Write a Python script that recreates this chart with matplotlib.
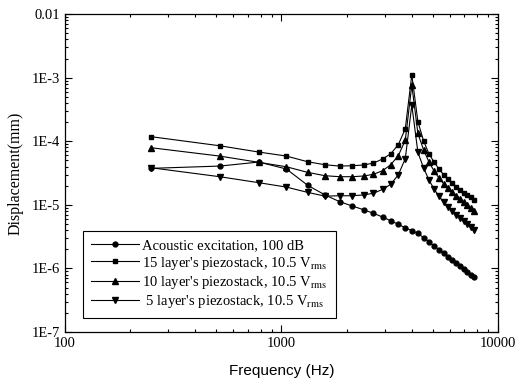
import numpy as np
import matplotlib
matplotlib.use("Agg")
from matplotlib import pyplot as plt, ticker

plt.rcParams['mathtext.fontset'] = 'stix'

freq = [250, 518, 786, 1054, 1321, 1589, 1857, 2125, 2393, 2661, 2929, 3196, 3464, 3732,
        4000, 4268, 4536, 4804, 5071, 5339, 5607, 5875, 6143, 6411, 6679, 6946, 7214, 7482, 7750]

# acoustic excitation, 100 dB
acoustic = [3.75e-5, 4.07e-5, 4.71e-5, 3.66e-5, 2.03e-5, 1.43e-5, 1.12e-5, 9.58e-6, 8.38e-6,
            7.35e-6, 6.43e-6, 5.62e-6, 4.93e-6, 4.36e-6, 3.92e-6, 3.56e-6, 3.04e-6, 2.62e-6,
            2.26e-6, 1.98e-6, 1.74e-6, 1.53e-6, 1.36e-6, 1.21e-6, 1.08e-6, 9.75e-7, 8.81e-7,
            7.93e-7, 7.41e-7]
# 15 layer stack
layer15 = [1.18e-4, 8.5e-5, 6.76e-5, 5.85e-5, 4.76e-5, 4.27e-5, 4.07e-5, 4.12e-5, 4.23e-5,
           4.54e-5, 5.25e-5, 6.36e-5, 8.81e-5, 1.57e-4, 1.11e-3, 2.03e-4, 1.01e-4, 6.29e-5,
           4.71e-5, 3.66e-5, 2.99e-5, 2.55e-5, 2.20e-5, 1.94e-5, 1.74e-5, 1.56e-5, 1.43e-5,
           1.31e-5, 1.21e-5]
# 10 layer stack
layer10 = [7.91e-5, 5.85e-5, 4.66e-5, 3.97e-5, 3.24e-5, 2.87e-5, 2.77e-5, 2.77e-5, 2.84e-5,
           3.02e-5, 3.44e-5, 4.27e-5, 5.92e-5, 1.04e-4, 7.65e-4, 1.33e-4, 7.27e-5, 4.71e-5,
           3.40e-5, 2.64e-5, 2.16e-5, 1.84e-5, 1.59e-5, 1.40e-5, 1.23e-5, 1.11e-5, 9.93e-6,
           8.91e-6, 8.07e-6]
# 5 layer stack
layer5 = [3.83e-5, 2.77e-5, 2.23e-5, 1.90e-5, 1.57e-5, 1.37e-5, 1.39e-5, 1.39e-5, 1.43e-5,
          1.52e-5, 1.75e-5, 2.10e-5, 2.97e-5, 5.31e-5, 3.71e-4, 6.69e-5, 3.79e-5, 2.45e-5,
          1.77e-5, 1.37e-5, 1.11e-5, 9.23e-6, 7.99e-6, 7.04e-6, 6.19e-6, 5.56e-6, 4.99e-6,
          4.48e-6, 4.09e-6]

labels = ["Acoustic excitation, 100 dB",
          "15 layer's piezostack, 10.5 V$_{\\mathrm{rms}}$",
          "10 layer's piezostack, 10.5 V$_{\\mathrm{rms}}$",
          " 5 layer's piezostack, 10.5 V$_{\\mathrm{rms}}$"]

fig = plt.figure(figsize=(5.16, 3.82), dpi=100)
ax = fig.add_axes([0.126, 0.131, 0.839, 0.832])

ax.plot(freq, acoustic, 'k-o', lw=0.8, ms=3.5, label=labels[0])
ax.plot(freq, layer15, 'k-s', lw=0.8, ms=3.5, label=labels[1])
ax.plot(freq, layer10, 'k-^', lw=0.8, ms=4, label=labels[2])
ax.plot(freq, layer5, 'k-v', lw=0.8, ms=4, label=labels[3])

ax.set_xscale("log")
ax.set_yscale("log")
ax.set_xlim(100, 10000)
ax.set_ylim(1e-7, 1e-2)

ax.set_yticks([1e-7, 1e-6, 1e-5, 1e-4, 1e-3, 1e-2])
ax.set_yticklabels(["1E-7", "1E-6", "1E-5", "1E-4", "1E-3", "0.01"])
ax.set_xticks([100, 1000, 10000])
ax.set_xticklabels(["100", "1000", "10000"])
ax.xaxis.set_minor_locator(ticker.LogLocator(base=10, subs=np.arange(2, 10)))
ax.yaxis.set_minor_locator(ticker.LogLocator(base=10, subs=np.arange(2, 10)))
ax.xaxis.set_minor_formatter(ticker.NullFormatter())
ax.yaxis.set_minor_formatter(ticker.NullFormatter())

ax.tick_params(which='both', direction='in', top=True, right=True, width=0.8)
ax.tick_params(which='major', length=5, labelsize=10.5)
ax.tick_params(which='minor', length=2.5)
for lab in ax.get_xticklabels() + ax.get_yticklabels():
    lab.set_family('Liberation Serif')
for s in ax.spines.values():
    s.set_linewidth(0.9)

ax.set_xlabel("Frequency (Hz)", family='Liberation Sans', fontsize=11, labelpad=10)
ax.set_ylabel("Displacement(mm)", family='Liberation Serif', fontsize=11.5, labelpad=6)

leg = ax.legend(loc='lower left', bbox_to_anchor=(0.042, 0.044), borderaxespad=0,
                prop={'family': 'Liberation Serif', 'size': 10.5},
                fancybox=False, edgecolor='black', framealpha=1, handlelength=3.3,
                handletextpad=0.2, borderpad=0.55, labelspacing=0.15)
leg.get_frame().set_linewidth(0.8)

plt.savefig("out.png", dpi=100)
